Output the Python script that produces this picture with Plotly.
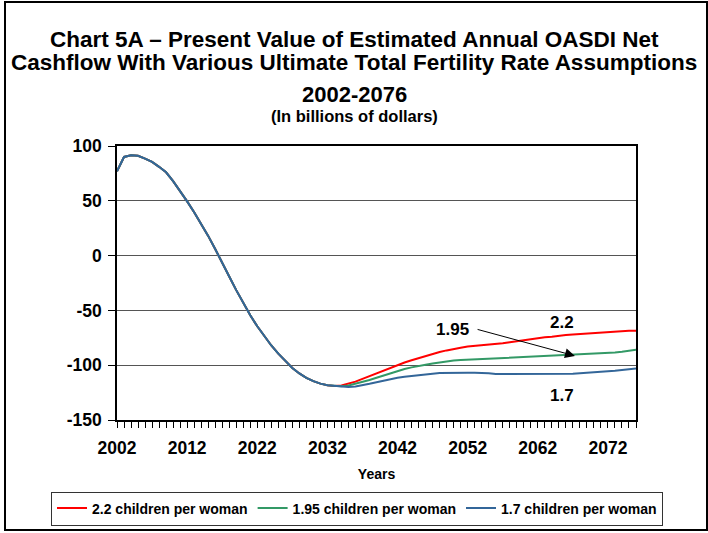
import plotly.graph_objects as go

# years on the category axis
years = list(range(2002, 2077))

# 2002-2033: the three projections coincide
shared_early = [77, 90, 91.5, 91, 88.5, 85.5, 81, 76, 68, 59, 49.5, 39.5, 29, 18, 6, -6,
                -19, -31.5, -43.5, -54.5, -64.5, -73.5, -82, -89.5, -96.5, -102.5, -107.5,
                -111.5, -114.5, -116.8, -118.3, -119]

# 2034-2076 for each fertility assumption
tfr_22_tail = [-118.5, -117, -115, -112.5, -110, -107, -104.5, -102, -99.5, -97.5, -95.5,
               -93.5, -91.5, -89.5, -88, -86.5, -85, -84, -83, -82.5, -82, -81.5, -81, -80,
               -79, -78, -77, -76, -75, -74.5, -74, -73, -72.5, -72, -71.5, -71, -70.5, -70,
               -70, -69.5, -69, -68.5, -68.5]
tfr_195_tail = [-119.3, -118.5, -117, -115.5, -113.5, -111.5, -109.5, -107.5, -105, -103.5,
                -102, -100.5, -99.5, -98.5, -97.5, -96.5, -95.8, -95.3, -95, -94.7, -94.4,
                -94, -93.7, -93.5, -93.3, -93, -92.6, -92.3, -92, -91.6, -91.3, -91, -90.7,
                -90.4, -90.1, -89.9, -89.6, -89.3, -89, -88.5, -87.8, -87, -86]
tfr_17_tail = [-119.8, -120, -119.5, -118.5, -117, -115.5, -114, -112.7, -111.5, -110.5,
               -109.7, -109, -108.3, -107.7, -107.2, -107, -107, -107, -107, -107, -107,
               -107.3, -108, -108, -108, -108, -108, -108, -108, -108, -108, -108, -108,
               -107.7, -107.3, -107, -106.5, -106, -105.5, -105, -104.2, -103.5, -103]

series_names = ["2.2 children per woman", "1.95 children per woman", "1.7 children per woman"]
series_colors = ["#FF0000", "#339966", "#336699"]

y_tick_vals = [100, 50, 0, -50, -100, -150]
y_tick_text = ["100", "50", "0", "-50", "-100", "-150"]

FONT = "Liberation Sans, Arial, sans-serif"

fig = go.Figure()
for name, tail, color in zip(series_names, [tfr_22_tail, tfr_195_tail, tfr_17_tail], series_colors):
    fig.add_trace(go.Scatter(
        x=years, y=shared_early + tail, mode="lines", name=name,
        line=dict(color=color, width=2),
    ))

# plot area spans x 117..636, y 146..420 px
def px_x(p):
    return (p - 117) / 519

def px_y(p):
    return (420 - p) / 274

title_lines = [
    ("<b>Chart 5A \u2013 Present Value of Estimated Annual OASDI Net</b>", 40, 22.5),
    ("<b>Cashflow With Various Ultimate Total Fertility Rate Assumptions</b>", 62.5, 22.5),
    ("<b>2002-2076</b>", 95, 22),
    ("<b>(In billions of dollars)</b>", 116, 16.5),
]
for text, ypx, size in title_lines:
    fig.add_annotation(text=text, xref="paper", yref="paper", x=px_x(354), y=px_y(ypx),
                       xanchor="center", yanchor="middle", showarrow=False,
                       font=dict(family=FONT, size=size, color="black"))

# series labels
for text, xv, yv in [("2.2", 2065.4, -61), ("1.95", 2049.9, -67), ("1.7", 2065.4, -128)]:
    fig.add_annotation(text=f"<b>{text}</b>", x=xv, y=yv, showarrow=False,
                       font=dict(family=FONT, size=17, color="black"))

# arrow from the 1.95 label to its line
fig.add_annotation(x=2067.3, y=-91.5, ax=2053.2, ay=-67, xref="x", yref="y",
                   axref="x", ayref="y", text="", showarrow=True,
                   arrowhead=2, arrowsize=2, arrowwidth=1, arrowcolor="black")

# outer frame of the chart
fig.add_shape(type="rect", xref="paper", yref="paper",
              x0=px_x(5), x1=px_x(707), y0=px_y(530), y1=px_y(2),
              line=dict(color="black", width=2), layer="below")

fig.update_layout(
    width=708, height=533,
    margin=dict(l=117, r=72, t=146, b=113, autoexpand=False),
    paper_bgcolor="white", plot_bgcolor="white",
    font=dict(family=FONT, color="black"),
    showlegend=True,
    legend=dict(
        orientation="h", x=px_x(51), xanchor="left", y=px_y(491.5), yanchor="top",
        bordercolor="#333333", borderwidth=1, bgcolor="white",
        font=dict(family=FONT, size=14, color="black", weight="bold"),
        itemwidth=30, tracegroupgap=0,
    ),
)

fig.update_xaxes(
    range=[2002, 2076], tick0=2002, dtick=10, automargin=False,
    ticks="outside", ticklen=6, tickcolor="black", tickwidth=1,
    minor=dict(dtick=1, tick0=2002, ticks="outside", ticklen=6, tickcolor="black", showgrid=False),
    showgrid=False, zeroline=False,
    showline=True, linecolor="black", linewidth=1.5, mirror=True,
    tickfont=dict(family=FONT, size=17.5, color="black", weight="bold"),
    ticklabelstandoff=5,
    title=dict(text="<b>Years</b>", font=dict(family=FONT, size=14, color="black"), standoff=12),
)
fig.update_yaxes(
    range=[-150, 100], tickvals=y_tick_vals, ticktext=y_tick_text, automargin=False,
    ticks="outside", ticklen=7, tickcolor="black",
    showgrid=True, gridcolor="#555555", gridwidth=1, zeroline=False,
    showline=True, linecolor="black", linewidth=1.5, mirror=True,
    tickfont=dict(family=FONT, size=17.5, color="black", weight="bold"),
    ticklabelstandoff=3,
)

# drop the page's default body margin so the figure sits at the window's corner
fig.write_html("out.html", config={"displayModeBar": False},
               post_script="document.body.style.margin = '0';")
